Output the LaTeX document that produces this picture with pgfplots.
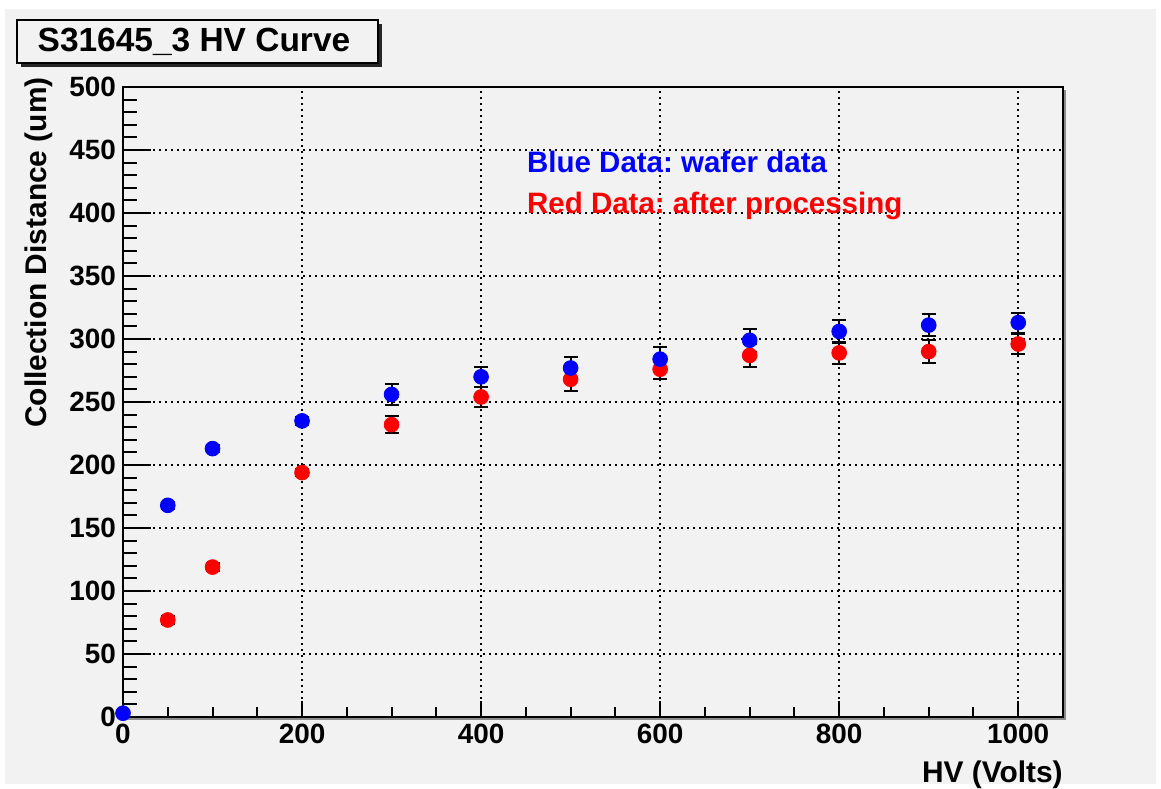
\documentclass[border=0pt]{standalone}
\usepackage{fontspec}
\setmainfont{Liberation Sans}
\usepackage{pgfplots}
\usepackage{pgfplotstable}
\pgfplotsset{compat=1.18}
\definecolor{bg}{HTML}{F2F2F2}
\definecolor{rblue}{RGB}{0,0,255}
\definecolor{rred}{RGB}{255,0,0}
\frenchspacing

\pgfplotstableread{
x y ey
0 3 2
50 168 3
100 213 3
200 235 3
300 256 8
400 270 8
500 277 9
600 284 10
700 299 9
800 306 9
900 311 9
1000 313 8
}\blue

\pgfplotstableread{
x y ey
50 77 3
100 119 3
200 194 3
300 232 7
400 254 8
500 268 9
600 276 8
700 287 9
800 289 9
900 290 9
1000 296 8
}\red

\begin{document}
\frenchspacing
\begin{tikzpicture}
\fill[white] (0,0) rectangle (580.5bp,394.5bp);
\fill[bg] (2.5bp,2.5bp) rectangle (578bp,390bp);
% frame shadow
\fill[black!45] (63bp,34.5bp) rectangle (533bp,349.5bp);
\begin{axis}[
  name=ax, at={(61.5bp,36bp)}, anchor=south west,
  scale only axis, width=470bp, height=315bp,
  xmin=0, xmax=1050, ymin=0, ymax=500,
  clip=false,
  axis background/.style={fill=bg},
  xtick={0,200,...,1000}, ytick={0,50,...,500},
  minor x tick num=3, minor y tick num=4,
  tick align=inside, tick pos=left,
  xtick style={/pgfplots/major tick length=8bp, /pgfplots/minor tick length=5bp},
  ytick style={/pgfplots/major tick length=14bp, /pgfplots/minor tick length=7bp},
  every tick/.style={black, line width=1bp},
  axis line style={black, line width=1bp},
  grid=major,
  major grid style={black, line width=0.8bp, dash pattern=on 0.8bp off 2.2bp},
  ticklabel style={font=\fontsize{14}{16}\selectfont\bfseries},
  /pgf/number format/assume math mode=true,
  /pgf/number format/1000 sep={},
  error bars/error bar style={black, line width=1bp},
  error bars/error mark options={rotate=90, mark size=3.5bp, black, line width=1bp},
]
\addplot[only marks, mark=*, mark size=3.7bp, mark options={draw=rred, fill=rred},
  error bars/.cd, y dir=both, y explicit]
  table[x=x, y=y, y error=ey] {\red};
\addplot[only marks, mark=*, mark size=3.7bp, mark options={draw=rblue, fill=rblue},
  error bars/.cd, y dir=both, y explicit]
  table[x=x, y=y, y error=ey] {\blue};
\node[anchor=base west, text=rblue, inner sep=0, font=\fontsize{14.8}{16}\selectfont\bfseries] at (axis cs:451,432) {Blue Data: wafer data};
\node[anchor=base west, text=rred, inner sep=0, font=\fontsize{14.8}{16}\selectfont\bfseries] at (axis cs:451,400) {Red Data: after processing};
\end{axis}
\node[anchor=north east, inner sep=0, font=\fontsize{15}{16}\selectfont\bfseries] at ([yshift=-21.5bp]ax.south east) {HV (Volts)};
\node[rotate=90, anchor=base east, inner sep=0, font=\fontsize{15}{16}\selectfont\bfseries] at ([xshift=-38.5bp, yshift=5bp]ax.north west) {Collection Distance (um)};
% title box
\fill[black!85] (10.5bp,361bp) rectangle (191bp,382.5bp);
\draw[fill=bg, line width=0.75bp] (8.5bp,363bp) rectangle (189bp,384.5bp);
\node[inner sep=0, font=\fontsize{16.8}{18}\selectfont\bfseries] at (97bp,373.5bp) {S31645\_3 HV Curve};
\end{tikzpicture}
\end{document}
